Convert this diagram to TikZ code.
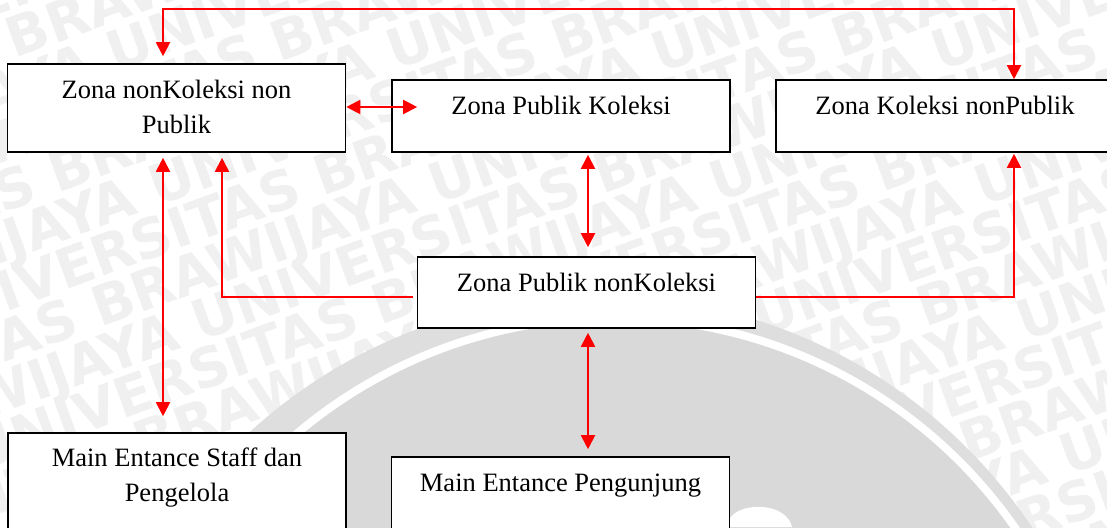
\documentclass[tikz,border=0pt]{standalone}
\usepackage{fontspec}
\setmainfont{Liberation Serif}
\newfontfamily\wmfont{DejaVu Sans}
\usetikzlibrary{arrows.meta}

\tikzset{
  zone/.style={draw=black, line width=1.6pt, fill=white, rectangle,
    minimum width=338pt, inner sep=0pt},
  lbl/.style={font=\fontsize{26.5}{35}\selectfont, inner sep=0pt, anchor=base},
  link/.style={draw=red, line width=2pt,
    >={Triangle[width=14pt,length=14pt]}},
  wm/.style={font=\wmfont\bfseries\fontsize{55}{55}\selectfont,
    text=black!6, inner sep=0pt, anchor=base west},
}

\begin{document}
\begin{tikzpicture}[x=1pt,y=-1pt]
\useasboundingbox (0,0) rectangle (1107,527);
\clip (0,0) rectangle (1107,527);

% faint tiled background lettering
\begin{scope}[shift={(553,263)}, rotate=20, transform shape]
  \foreach \i in {-14,...,14} {
    \node[wm] at ({-1400-Mod(\i*270,804)}, {\i*47})
      {UNIVERSITAS BRAWIJAYA UNIVERSITAS BRAWIJAYA UNIVERSITAS BRAWIJAYA UNIVERSITAS BRAWIJAYA};
  }
\end{scope}

% grey seal behind the lower part: outer ring, gap, disc
\fill[black!13] (600,815) circle (519);
\fill[white] (613,808) circle (494);
\fill[black!15] (613,808) circle (486);
\fill[white] (727,527) .. controls (728,512) and (745,506) .. (762,507)
  .. controls (779,508) and (790,517) .. (792,527) -- cycle;

% zones
\node[zone, minimum height=88pt] (A) at (176.5,108) {};
\node[zone, minimum height=72pt] (B) at (561,116) {};
\node[zone, minimum height=72pt] (C) at (945,116) {};
\node[zone, minimum height=71pt] (D) at (586.5,292.5) {};
\node[zone, minimum height=110pt] (E) at (177,488) {};
\node[zone, minimum height=110pt] (F) at (560.5,512) {};

% routing points
\coordinate (tl) at (163,9.3);
\coordinate (tr) at (1014,9.3);
\coordinate (ml) at (222,297);
\coordinate (mr) at (1014,297);
\coordinate (ab) at (0,107);
\coordinate (xm) at (588,0);

% connectors
\draw[link,<->,shorten <=7pt] (A.north -| tl) -- (tl) -- (tr) -- (C.north -| tr);
\draw[link,<->] (A.east |- ab) -- ([xshift=26pt]B.west |- ab);
\draw[link,<->,shorten <=5pt,shorten >=16pt] (A.south -| tl) -- (E.north -| tl);
\draw[link,->,shorten <=4pt,shorten >=5pt] (D.west |- ml) -- (ml) -- (A.south -| ml);
\draw[link,<->,shorten <=2pt,shorten >=9pt] (B.south -| xm) -- (D.north -| xm);
\draw[link,->,shorten >=1pt] (D.east |- mr) -- (mr) -- (C.south -| mr);
\draw[link,<->,shorten <=4pt,shorten >=7pt] (D.south -| xm) -- (F.north -| xm);

% labels
\node[lbl] (tA) at ([yshift=-35pt]A.north)
  {\begin{tabular}[t]{@{}c@{}}Zona nonKoleksi non\\Publik\end{tabular}};
\node[lbl] (tB) at ([yshift=-35pt]B.north) {Zona Publik Koleksi};
\node[lbl] (tC) at ([yshift=-35pt]C.north) {Zona Koleksi nonPublik};
\node[lbl] (tD) at ([yshift=-35pt]D.north) {Zona Publik nonKoleksi};
\node[lbl] (tE) at ([yshift=-34pt]E.north)
  {\begin{tabular}[t]{@{}c@{}}Main Entance Staff dan\\Pengelola\end{tabular}};
\node[lbl] (tF) at ([yshift=-35pt]F.north) {Main Entance Pengunjung};
\end{tikzpicture}
\end{document}
